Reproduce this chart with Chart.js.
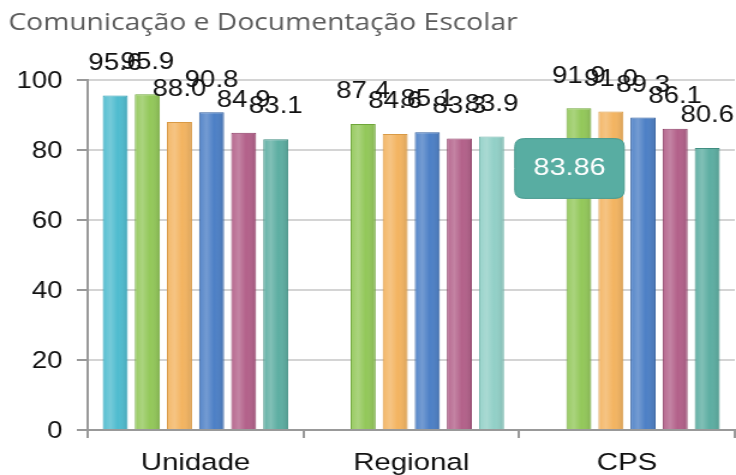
<!DOCTYPE html>
<html>
<head>
<meta charset="utf-8">
<script src="https://cdn.jsdelivr.net/npm/chart.js@4.4.1/dist/chart.umd.min.js"></script>
<style>
html, body { margin: 0; padding: 0; background: #fff; overflow: hidden; }
#wrap { position: absolute; left: 0; top: 0; width: 613px; height: 475px; transform: scaleX(1.2007); transform-origin: 0 0; }
</style>
</head>
<body>
<div id="wrap"><canvas id="chart" width="613" height="475"></canvas></div>
<script>
// chart values
const categories = ["Unidade", "Regional", "CPS"];
const cyanValues = [95.6, null, null];
const greenValues = [95.9, 87.4, 91.9];
const orangeValues = [88.0, 84.6, 91.0];
const blueValues = [90.8, 85.1, 89.3];
const magentaValues = [84.9, 83.3, 86.1];
const tealValues = [83.1, 83.86, 80.6];
const yTicks = [0, 20, 40, 60, 80, 100];

const FONT = "'Liberation Sans', Arial, sans-serif";

const barShade = {
    id: "barShade",
    afterDatasetsDraw(chart) {
        const ctx = chart.ctx;
        ctx.save();
        chart.data.datasets.forEach((ds, i) => {
            chart.getDatasetMeta(i).data.forEach((bar, j) => {
                if (ds.data[j] == null) return;
                const { x, y, base, width } = bar.getProps(["x", "y", "base", "width"], true);
                const left = x - width / 2;
                const g = ctx.createLinearGradient(left, 0, left + width, 0);
                g.addColorStop(0, "rgba(255,255,255,0.05)");
                g.addColorStop(0.3, "rgba(255,255,255,0.22)");
                g.addColorStop(0.6, "rgba(255,255,255,0)");
                g.addColorStop(1, "rgba(0,0,0,0.12)");
                ctx.fillStyle = g;
                ctx.fillRect(left + 1, y + 1, width - 2, base - y - 1);
            });
        });
        ctx.restore();
    }
};

const valueLabels = {
    id: "valueLabels",
    afterDatasetsDraw(chart) {
        const ctx = chart.ctx;
        ctx.save();
        ctx.font = "23px " + FONT;
        ctx.fillStyle = "#111";
        ctx.textAlign = "center";
        ctx.textBaseline = "middle";
        chart.data.datasets.forEach((ds, i) => {
            chart.getDatasetMeta(i).data.forEach((bar, j) => {
                const v = ds.data[j];
                if (v == null) return;
                ctx.fillText(v.toFixed(1), bar.x, bar.y - 32);
            });
        });
        ctx.restore();
    }
};

Chart.Tooltip.positioners.beside = function (items) {
    if (!items.length) return false;
    const el = items[0].element;
    return { x: el.x + el.width / 2 + 9, y: el.y + 32, xAlign: "left", yAlign: "center" };
};

const ctx = document.getElementById("chart");

const chart = new Chart(ctx, {
    type: "bar",
    data: {
        labels: categories,
        datasets: [
            { data: cyanValues, backgroundColor: "#4fbccf", borderColor: "#2d9fb5" },
            { data: greenValues, backgroundColor: "#93c85a", borderColor: "#6fa63a" },
            { data: orangeValues, backgroundColor: "#f3b461", borderColor: "#d99a45" },
            { data: blueValues, backgroundColor: "#4d80c6", borderColor: "#2f5d9e" },
            { data: magentaValues, backgroundColor: "#b3618a", borderColor: "#8c3d64" },
            { data: tealValues, backgroundColor: ["#5daea2", "#92d0c7", "#5daea2"], borderColor: ["#3f8d80", "#73b6ab", "#3f8d80"] }
        ]
    },
    options: {
        responsive: false,
        animation: false,
        events: [],
        datasets: {
            bar: { categoryPercentage: 0.893, barPercentage: 0.78, borderWidth: 1 }
        },
        layout: { padding: { left: 7, right: 1, top: 0, bottom: 0 } },
        plugins: {
            legend: { display: false },
            title: {
                display: true,
                text: "Comunicação e Documentação Escolar",
                align: "start",
                color: "#5b5b5b",
                font: { family: "'Open Sans', sans-serif", size: 23.5, weight: "normal" },
                padding: { top: 9, bottom: 42.8 }
            },
            tooltip: {
                enabled: true,
                animation: false,
                position: "beside",
                xAlign: "left",
                yAlign: "center",
                caretSize: 0,
                caretPadding: 0,
                displayColors: false,
                backgroundColor: "#58ada2",
                borderColor: "#4a9b90",
                borderWidth: 1,
                cornerRadius: 8,
                padding: 15.5,
                bodyColor: "#fff",
                bodyFont: { family: FONT, size: 24 },
                callbacks: {
                    title: () => "",
                    label: (c) => c.parsed.y.toFixed(2)
                }
            }
        },
        scales: {
            x: {
                ticks: { color: "#111", font: { family: FONT, size: 24.5 }, padding: 11 },
                grid: { display: true, drawOnChartArea: false, offset: true, tickLength: 8, color: "#999", lineWidth: 2 },
                border: { color: "#999", width: 2 },
                afterFit: (scale) => { scale.height = 45; }
            },
            y: {
                min: yTicks[0],
                max: yTicks[yTicks.length - 1],
                afterBuildTicks: (scale) => { scale.ticks = yTicks.map(v => ({ value: v })); },
                ticks: { color: "#111", font: { family: FONT, size: 23 }, padding: 12, labelOffset: 2 },
                grid: { color: "#d4d4d4", lineWidth: 2, tickColor: "#999", tickLength: 9 },
                border: { color: "#999", width: 2 },
                afterFit: (scale) => { scale.width = 66; }
            }
        }
    },
    plugins: [barShade, valueLabels]
});

chart.tooltip.setActiveElements([{ datasetIndex: 5, index: 1 }], { x: 0, y: 0 });
chart.update();
</script>
</body>
</html>
